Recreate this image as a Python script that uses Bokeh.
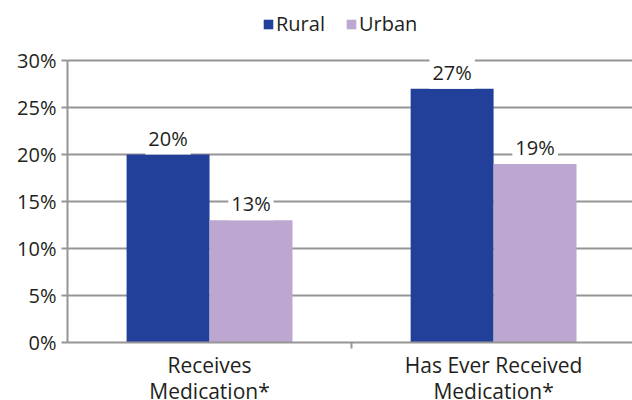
from bokeh.plotting import figure
from bokeh.models import (ColumnDataSource, Range1d, FixedTicker, Legend, LegendItem)
from bokeh.core.properties import value
from bokeh.embed import file_html
from bokeh.resources import INLINE

categories = ["Receives\nMedication*", "Has Ever Received\nMedication*"]
series = ["Rural", "Urban"]
rural = [20, 27]
urban = [13, 19]
y_ticks = [0, 5, 10, 15, 20, 25, 30]
y_tick_labels = ["0%", "5%", "10%", "15%", "20%", "25%", "30%"]
colors = ["#22409A", "#BCA7D1"]

FONT = "Open Sans"
TXT = "#231F20"
GRAY = "#959595"

pos = [i + 0.5 for i in range(len(categories))]
bw = 0.292
y_max = 30
# frame extends to the top of the page so the legend (inside the frame) is not clipped
y_top = y_max * 342 / 282

src_r = ColumnDataSource(dict(x=[p_ - bw / 2 for p_ in pos], y=rural,
                              lab=[f"{v}%" for v in rural]))
src_u = ColumnDataSource(dict(x=[p_ + bw / 2 for p_ in pos], y=urban,
                              lab=[f"{v}%" for v in urban]))

p = figure(frame_width=565, frame_height=342, output_backend="svg", toolbar_location=None,
           x_range=Range1d(0, 1.989), y_range=Range1d(0, y_top),
           min_border_left=67, min_border_right=0, min_border_top=0,
           min_border_bottom=0)
p.outline_line_color = None
p.background_fill_color = "white"
p.border_fill_color = "white"

r1 = p.vbar(x="x", top="y", width=bw, source=src_r, fill_color=colors[0], line_color=None)
r2 = p.vbar(x="x", top="y", width=bw, source=src_u, fill_color=colors[1], line_color=None)

for src in (src_r, src_u):
    p.text(x="x", y="y", text="lab", source=src, text_align="center",
           text_baseline="bottom", y_offset=0, text_font=value(FONT),
           text_font_size="20px", text_color=TXT,
           background_fill_color="white", padding=3)

# axes
p.xgrid.visible = False
p.ygrid.ticker = FixedTicker(ticks=y_ticks)
p.ygrid.grid_line_color = GRAY
p.ygrid.grid_line_width = 2

p.yaxis.ticker = FixedTicker(ticks=y_ticks)
p.yaxis.bounds = (0, y_max)
p.yaxis.major_label_overrides = {t: l for t, l in zip(y_ticks, y_tick_labels)}
p.yaxis.axis_line_color = GRAY
p.yaxis.axis_line_width = 2
p.yaxis.major_tick_line_color = GRAY
p.yaxis.major_tick_line_width = 2
p.yaxis.major_tick_in = 0
p.yaxis.major_tick_out = 6
p.yaxis.minor_tick_line_color = None
p.yaxis.major_label_text_font = FONT
p.yaxis.major_label_text_font_size = "20px"
p.yaxis.major_label_text_color = TXT
p.yaxis.major_label_standoff = 5

p.xaxis.ticker = FixedTicker(ticks=pos, minor_ticks=[1.0])
p.xaxis.major_label_overrides = {p_: c for p_, c in zip(pos, categories)}
p.xaxis.axis_line_color = GRAY
p.xaxis.axis_line_width = 2
p.xaxis.major_tick_line_color = None
p.xaxis.major_tick_in = 0
p.xaxis.major_tick_out = 0
p.xaxis.minor_tick_line_color = GRAY
p.xaxis.minor_tick_line_width = 2
p.xaxis.minor_tick_in = 0
p.xaxis.minor_tick_out = 6
p.xaxis.major_label_text_font = FONT
p.xaxis.major_label_text_font_size = "21px"
p.xaxis.major_label_text_line_height = 0.95
p.xaxis.major_label_text_color = TXT
p.xaxis.major_label_standoff = 2

legend = Legend(items=[LegendItem(label=series[0], renderers=[r1]),
                       LegendItem(label=series[1], renderers=[r2])],
                location=(195, 305), orientation="horizontal",
                glyph_width=12, glyph_height=12, label_standoff=2, spacing=20,
                padding=0, margin=0, border_line_color=None,
                background_fill_alpha=0, label_text_font=FONT,
                label_text_font_size="20px", label_text_color=TXT)
p.add_layout(legend, "center")

open("out.html", "w").write(file_html(p, INLINE))
